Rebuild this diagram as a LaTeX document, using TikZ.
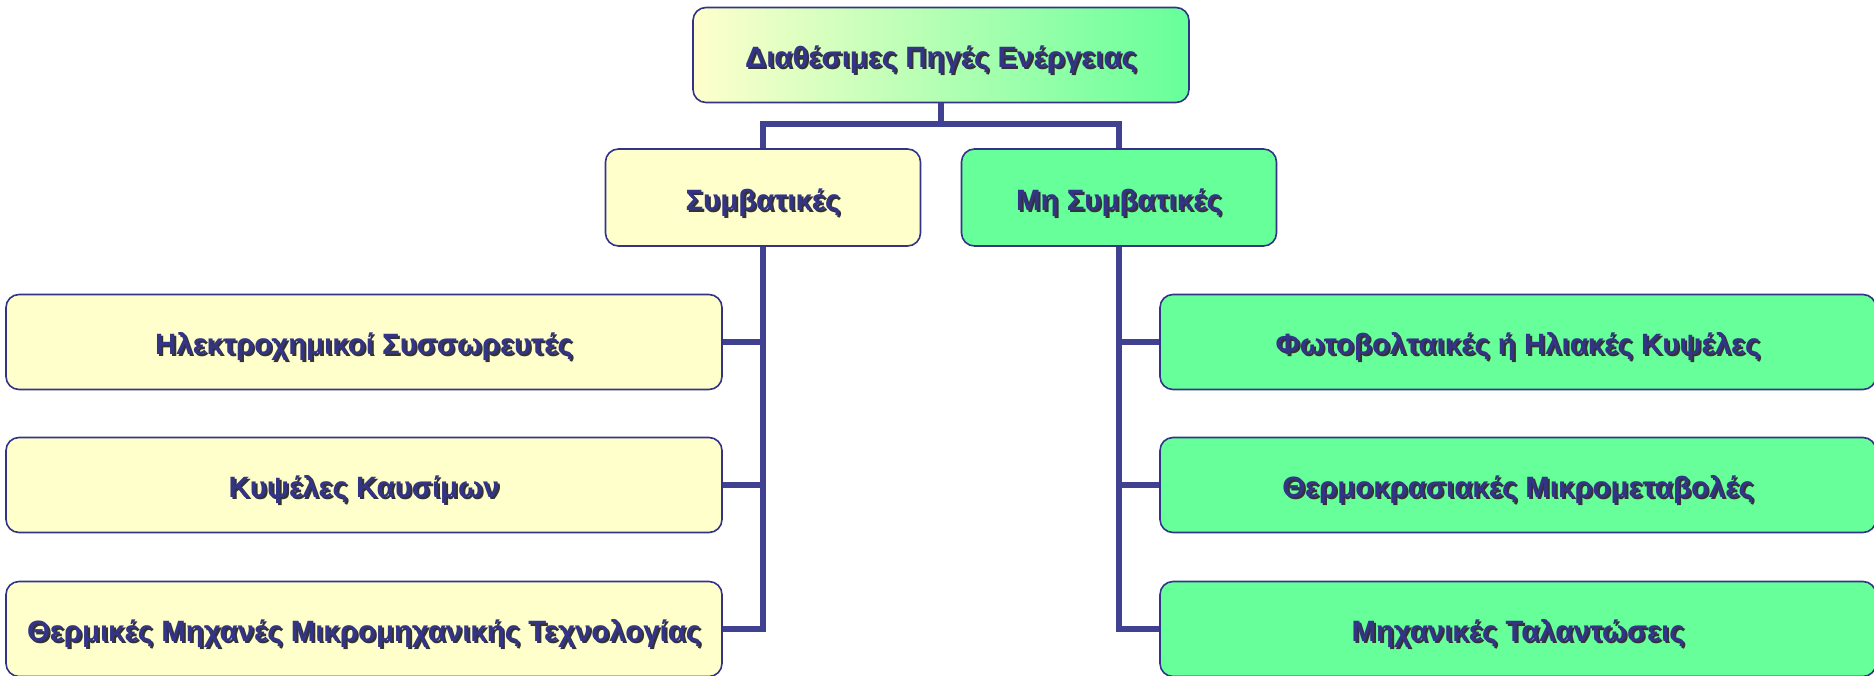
\documentclass[tikz,border=0pt]{standalone}
\usepackage{fontspec}
\setmainfont{Liberation Sans}
\usepackage{tikz}

\definecolor{navy}{RGB}{51,51,136}
\definecolor{linecol}{RGB}{64,66,145}
\definecolor{yel}{RGB}{255,255,204}
\definecolor{grn}{RGB}{102,255,153}

\newcommand{\shtxt}[1]{{\color{black!80}\rlap{\hspace{2pt}\raisebox{-2pt}{#1}}}#1}

\tikzset{
  box/.style={draw=navy,line width=1.6pt,rounded corners=13pt,minimum height=95pt,
    text=navy,font=\bfseries\fontsize{29.4}{34}\selectfont,inner sep=0pt,
    text height=30pt,text depth=5pt},
  ybox/.style={box,fill=yel},
  gbox/.style={box,fill=grn},
  conn/.style={draw=linecol,line width=6pt}
}

\begin{document}
\begin{tikzpicture}[x=1pt,y=-1pt]
\useasboundingbox (0,0) rectangle (1874,675);

\node[box,minimum width=496pt,left color=yel,right color=grn] (top) at (941,55) {\shtxt{Διαθέσιμες Πηγές Ενέργειας}};
\node[ybox,minimum width=315pt,minimum height=97pt] (conv) at (763,197.5) {\shtxt{Συμβατικές}};
\node[gbox,minimum width=315pt,minimum height=97pt] (nconv) at (1119,197.5) {\shtxt{Μη Συμβατικές}};

\node[ybox,minimum width=716pt] (l1) at (364,342) {\shtxt{Ηλεκτροχημικοί Συσσωρευτές}};
\node[ybox,minimum width=716pt] (l2) at (364,485) {\shtxt{Κυψέλες Καυσίμων}};
\node[ybox,minimum width=716pt] (l3) at (364,629) {\shtxt{Θερμικές Μηχανές Μικρομηχανικής Τεχνολογίας}};

\node[gbox,minimum width=716pt] (r1) at (1518,342) {\shtxt{Φωτοβολταικές ή Ηλιακές Κυψέλες}};
\node[gbox,minimum width=716pt] (r2) at (1518,485) {\shtxt{Θερμοκρασιακές Μικρομεταβολές}};
\node[gbox,minimum width=716pt] (r3) at (1518,629) {\shtxt{Μηχανικές Ταλαντώσεις}};

\coordinate (bar) at (941,124);
\draw[conn] (top.south) -- (bar);
\draw[conn] (conv.north) |- (bar) -| (nconv.north);

\foreach \n in {l1,l2,l3} \draw[conn] (conv.south) |- (\n.east);
\foreach \n in {r1,r2,r3} \draw[conn] (nconv.south) |- (\n.west);
\end{tikzpicture}
\end{document}
